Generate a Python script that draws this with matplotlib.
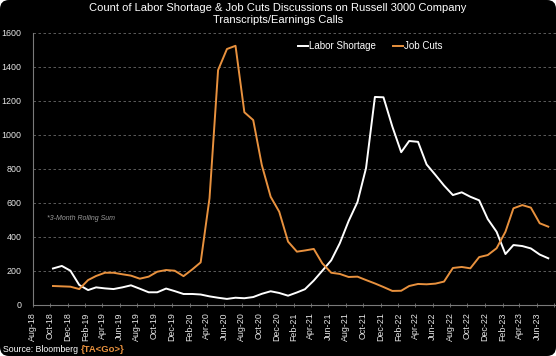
import numpy as np
import pandas as pd
import matplotlib
matplotlib.use('Agg')
import matplotlib.pyplot as plt
from matplotlib.patches import FancyBboxPatch
from matplotlib.transforms import IdentityTransform

plt.rcParams['font.family'] = ['Liberation Sans', 'DejaVu Sans']

# ==============================================================================
# Data (3-month rolling sums, monthly, Oct-18 .. Jul-23)
# ==============================================================================
first_month = '2018-10-01'
labor_shortage = [213, 228, 200, 116, 86, 102, 96, 92, 102, 114,
                  94, 73, 73, 95, 80, 63, 63, 60, 49, 41,
                  34, 41, 38, 45, 64, 79, 69, 53, 72, 91,
                  142, 200, 261, 361, 492, 604, 804, 1222, 1220, 1048,
                  897, 963, 958, 825, 763, 701, 645, 661, 635, 614,
                  504, 429, 298, 351, 345, 331, 295, 273]
job_cuts = [110, 108, 106, 92, 145, 169, 188, 188, 179, 171,
            153, 165, 194, 204, 200, 168, 208, 249, 626, 1380,
            1504, 1523, 1132, 1086, 822, 635, 547, 371, 312, 319,
            328, 243, 188, 181, 163, 165, 145, 125, 104, 81,
            82, 110, 122, 120, 124, 136, 216, 222, 214, 280,
            292, 332, 429, 567, 586, 571, 479, 459]

title = ('Count of Labor Shortage & Job Cuts Discussions on Russell 3000 Company\n'
         'Transcripts/Earnings Calls')
note = '*3-Month Rolling Sum'

dates = pd.date_range(first_month, periods=len(labor_shortage), freq='MS') + pd.Timedelta(days=10)
ticks = pd.date_range('2018-08-01', '2023-08-01', freq='2MS')
tick_labels = [d.strftime('%b-%y') for d in ticks]
tick_labels[-1] = ''

orange = '#E8913E'
grey = '#7a7a7a'

# ==============================================================================
# Figure
# ==============================================================================
fig = plt.figure(figsize=(5.56, 3.56), dpi=100)
fig.patch.set_facecolor('white')
bg = FancyBboxPatch((0, 0), 556, 356, boxstyle='round,pad=0,rounding_size=9',
                    transform=IdentityTransform(), facecolor='black',
                    edgecolor='none', zorder=-10)
fig.add_artist(bg)

ax = fig.add_axes([32.7 / 556, 51.3 / 356, (556 - 32.7) / 556, 272 / 356])
ax.set_facecolor('none')

ax.plot(dates, labor_shortage, color='white', lw=1.4, label='Labor Shortage')
ax.plot(dates, job_cuts, color=orange, lw=1.4, label='Job Cuts')

ax.set_ylim(0, 1600)
ax.set_yticks(np.arange(0, 1601, 200))
ax.set_xlim(pd.Timestamp('2018-08-01'), pd.Timestamp('2023-08-07'))
ax.set_xticks(ticks)
ax.set_xticklabels(tick_labels, rotation=90)

ax.yaxis.grid(True, linestyle=(0, (3, 3)), color='#6a6a6a', lw=0.6)
ax.set_axisbelow(True)
for s in ['top', 'right']:
    ax.spines[s].set_visible(False)
for s in ['left', 'bottom']:
    ax.spines[s].set_color(grey)
    ax.spines[s].set_linewidth(0.8)

ax.tick_params(axis='y', length=0, pad=8, labelsize=6.4, labelcolor='#e6e6e6')
ax.tick_params(axis='x', length=3, width=0.6, color=grey, direction='inout',
               pad=4, labelsize=6.4, labelcolor='#e6e6e6')

leg = ax.legend(loc='center left', bbox_to_anchor=(298 / 556, 1 - 46 / 356),
                bbox_transform=fig.transFigure, ncol=2, frameon=False,
                handlelength=1.0, handletextpad=0.1, columnspacing=1.8,
                fontsize=7, borderaxespad=0, borderpad=0)
for t in leg.get_texts():
    t.set_color('white')

fig.text(0.5, 1 - 14 / 356, title, ha='center', va='center', color='white',
         fontsize=8, linespacing=1.2)
fig.text(47 / 556, 1 - 219 / 356, note, ha='left', va='center', color='#9a9a9a',
         fontsize=5, style='italic')

src = fig.text(3 / 556, 1 - 350 / 356, 'Source: Bloomberg ', ha='left', va='center',
               color='white', fontsize=6.3)
fig.canvas.draw()
bb = src.get_window_extent()
fig.text(bb.x1 / 556, 1 - 350 / 356, '{TA<Go>}', ha='left', va='center',
         color=orange, fontsize=6.8, fontweight='bold')

plt.savefig('out.png', dpi=100, facecolor=fig.get_facecolor())
